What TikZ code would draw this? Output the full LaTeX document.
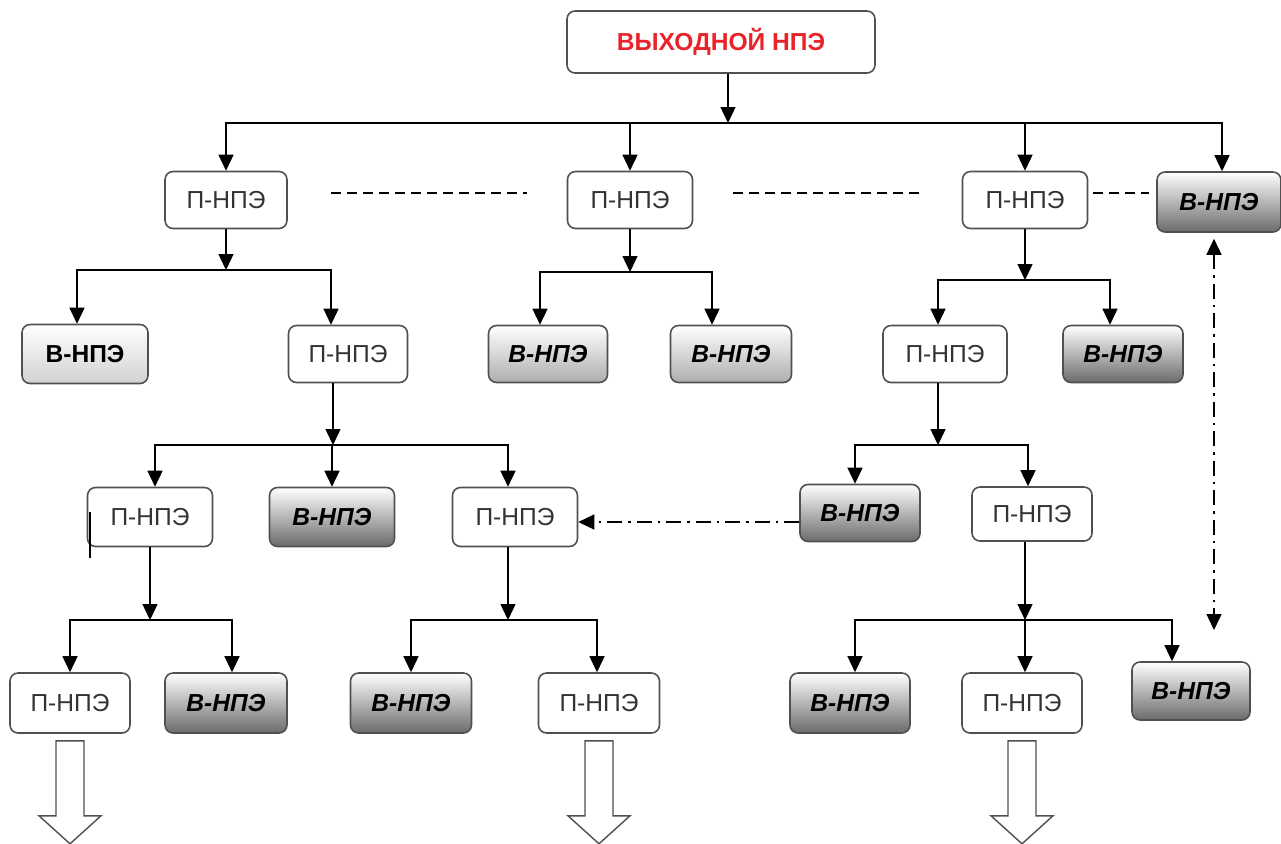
\documentclass[tikz,border=0pt]{standalone}
\usepackage{fontspec}
\setmainfont{Liberation Sans}
\usetikzlibrary{arrows.meta}
\definecolor{outred}{HTML}{E8232A}
\definecolor{ptext}{HTML}{333333}
\definecolor{boxline}{HTML}{505050}

\begin{document}
\begin{tikzpicture}[x=0.02cm, y=-0.02cm, >={Triangle[length=0.32cm,width=0.3cm]},
    box/.style={draw=boxline, line width=0.9pt, rounded corners=0.16cm, minimum width=2.44cm, minimum height=1.14cm, font=\fontsize{14}{16}\selectfont},
    pbox/.style={box, fill=white, text=ptext},
    vbox/.style={box, top color=white, bottom color=black!58, font=\fontsize{14}{16}\selectfont\bfseries\itshape},
    vlight/.style={vbox, bottom color=black!32},
    arr/.style={->, line width=0.8pt},
    dd/.style={line width=0.8pt, dash pattern=on 0.3cm off 0.12cm on 0.05cm off 0.12cm}]
        \useasboundingbox (0,0) rectangle (1281,843);

        % Define blocks
        \node[box, minimum width=6.16cm, minimum height=1.24cm, text=outred, font=\fontsize{14}{16}\selectfont\bfseries] (top) at (721,42) {ВЫХОДНОЙ НПЭ};

        \node[pbox] (p1) at (226,200) {П-НПЭ};
        \node[pbox, minimum width=2.5cm] (p2) at (630,200) {П-НПЭ};
        \node[pbox, minimum width=2.5cm] (p3) at (1025,200) {П-НПЭ};
        \node[vbox, minimum width=2.48cm, minimum height=1.2cm] (v1) at (1219,202) {В-НПЭ};

        \node[vlight, bottom color=black!18, minimum width=2.52cm, minimum height=1.18cm, font=\fontsize{14}{16}\selectfont\bfseries] (v11) at (85,354) {В-НПЭ};
        \node[pbox, minimum width=2.38cm] (p11) at (348,354) {П-НПЭ};
        \node[vlight, minimum width=2.38cm] (v21) at (548,354) {В-НПЭ};
        \node[vlight, minimum width=2.42cm] (v22) at (731,354) {В-НПЭ};
        \node[pbox, minimum width=2.48cm] (p31) at (945,354) {П-НПЭ};
        \node[vbox, minimum width=2.4cm] (v31) at (1123,354) {В-НПЭ};

        \node[pbox, minimum width=2.5cm, minimum height=1.18cm] (p111) at (150,517) {П-НПЭ};
        \node[vbox, minimum width=2.5cm, minimum height=1.18cm] (v111) at (332,517) {В-НПЭ};
        \node[pbox, minimum width=2.5cm, minimum height=1.18cm] (p112) at (515,517) {П-НПЭ};
        \node[vbox, minimum width=2.4cm] (v311) at (860,513) {В-НПЭ};
        \node[pbox, minimum width=2.4cm, minimum height=1.08cm] (p311) at (1032,514) {П-НПЭ};

        \node[pbox, minimum width=2.4cm, minimum height=1.2cm] (p1111) at (70,703) {П-НПЭ};
        \node[vbox, minimum height=1.2cm] (v1111) at (226,703) {В-НПЭ};
        \node[vbox, minimum width=2.42cm, minimum height=1.2cm] (v1121) at (411,703) {В-НПЭ};
        \node[pbox, minimum width=2.42cm, minimum height=1.2cm] (p1121) at (599,703) {П-НПЭ};
        \node[vbox, minimum width=2.4cm, minimum height=1.2cm] (v3111) at (850,703) {В-НПЭ};
        \node[pbox, minimum width=2.4cm, minimum height=1.2cm] (p3111) at (1022,703) {П-НПЭ};
        \node[vbox, minimum width=2.36cm, minimum height=1.16cm] (v3112) at (1191,691) {В-НПЭ};

        % Junctions of the branches
        \coordinate (j0) at (728,123);
        \coordinate (j1) at (226,270);
        \coordinate (j2) at (630,272);
        \coordinate (j3) at (1025,280);
        \coordinate (j11) at (333,445);
        \coordinate (j31) at (938,445);
        \coordinate (j111) at (150,620);
        \coordinate (j112) at (508,620);
        \coordinate (j311) at (1025,620);

        % Parent to junction
        \draw[arr] (top.south -| j0) -- (j0);
        \draw[arr] (p1.south -| j1) -- (j1);
        \draw[arr] (p2.south -| j2) -- (j2);
        \draw[arr] (p3.south -| j3) -- (j3);
        \draw[arr] (p11.south -| j11) -- (j11);
        \draw[arr] (p31.south -| j31) -- (j31);
        \draw[arr] (p111.south -| j111) -- (j111);
        \draw[arr] (p112.south -| j112) -- (j112);
        \draw[arr] (p311.south -| j311) -- (j311);

        % Junction to children
        \draw[arr] (j0) -| (p1.north);
        \draw[arr] (j0) -| (p2.north);
        \draw[arr] (j0) -| (p3.north);
        \draw[arr] (j0) -| ([xshift=0.06cm]v1.north);
        \draw[arr] (j1) -| ([xshift=-0.16cm]v11.north);
        \draw[arr] (j1) -| ([xshift=-0.34cm]p11.north);
        \draw[arr] (j2) -| ([xshift=-0.16cm]v21.north);
        \draw[arr] (j2) -| ([xshift=-0.38cm]v22.north);
        \draw[arr] (j3) -| ([xshift=-0.14cm]p31.north);
        \draw[arr] (j3) -| ([xshift=-0.26cm]v31.north);
        \draw[arr] (j11) -| ([xshift=0.1cm]p111.north);
        \draw[arr] (j11) -| (v111.north);
        \draw[arr] (j11) -| ([xshift=-0.14cm]p112.north);
        \draw[arr] (j31) -| ([xshift=-0.1cm]v311.north);
        \draw[arr] (j31) -| ([xshift=-0.08cm]p311.north);
        \draw[arr] (j111) -| (p1111.north);
        \draw[arr] (j111) -| ([xshift=0.12cm]v1111.north);
        \draw[arr] (j112) -| (v1121.north);
        \draw[arr] (j112) -| ([xshift=-0.04cm]p1121.north);
        \draw[arr] (j311) -| ([xshift=0.1cm]v3111.north);
        \draw[arr] (j311) -| ([xshift=0.06cm]p3111.north);
        \draw[arr] (j311) -| ([xshift=-0.38cm]v3112.north);

        % Same-level links
        \draw[line width=0.8pt, dash pattern=on 0.2cm off 0.12cm] ([xshift=0.86cm,yshift=0.14cm]p1.east) -- ([xshift=-0.8cm,yshift=0.14cm]p2.west);
        \draw[line width=0.8pt, dash pattern=on 0.2cm off 0.12cm] ([xshift=0.8cm,yshift=0.14cm]p2.east) -- ([xshift=-0.8cm,yshift=0.14cm]p3.west);
        \draw[line width=0.8pt, dash pattern=on 0.2cm off 0.12cm] ([xshift=0.1cm,yshift=0.14cm]p3.east) -- ([xshift=-0.14cm,yshift=0.14cm]p3.east -| v1.west);

        % Dash-dot links
        \coordinate (e1) at (1214,630);
        \draw[dd, <->] ([yshift=-0.12cm]v1.south -| e1) -- (e1);
        \draw[dd, ->] ([yshift=-0.18cm]v311.west) -- ([yshift=-0.18cm]v311.west -| p112.east);

        % Continuation arrows
        \foreach \n in {p1111,p1121,p3111}
            \draw[line width=0.8pt, draw=boxline, fill=white] ([yshift=-0.14cm]\n.south) ++(-14,0) -- ++(0,75) -- ++(-17,0) -- ++(31,28) -- ++(31,-28) -- ++(-17,0) -- ++(0,-75) -- cycle;

        \draw[line width=1.3pt] ([xshift=0.06cm,yshift=0.1cm]p111.west) -- ++(0,46);
    \end{tikzpicture}
\end{document}
